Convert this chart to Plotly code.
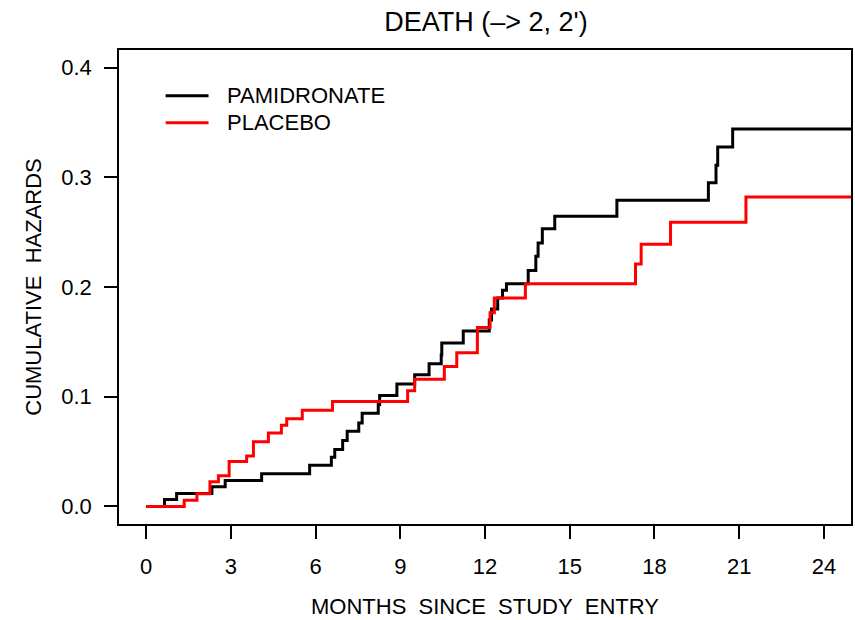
import plotly.graph_objects as go

# ---- data (months, cumulative hazard) ----
pam_time = [0, 0.65, 1.08, 2.33, 2.80, 4.09, 5.79, 6.56, 6.68, 6.96, 7.12, 7.53, 7.65,
            8.22, 8.27, 8.88, 9.51, 10.02, 10.45, 10.47, 11.23, 12.15, 12.23, 12.45,
            12.62, 12.76, 13.53, 13.80, 13.88, 14.03, 14.47, 16.67, 19.91, 20.18,
            20.24, 20.77, 25.0]
pam_haz = [0, 0.0064, 0.0118, 0.018, 0.0236, 0.0297, 0.0376, 0.0448, 0.0518, 0.060,
           0.0685, 0.076, 0.085, 0.093, 0.101, 0.1115, 0.120, 0.130, 0.138, 0.149,
           0.160, 0.170, 0.180, 0.190, 0.197, 0.203, 0.215, 0.228, 0.240, 0.253,
           0.2645, 0.279, 0.295, 0.311, 0.3276, 0.344, 0.344]

pla_time = [0, 1.35, 1.80, 2.26, 2.56, 2.94, 3.56, 3.80, 4.33, 4.79, 4.98, 5.53, 6.60,
            9.26, 9.51, 10.56, 11.00, 11.73, 12.18, 12.33, 13.43, 17.33, 17.53, 18.57,
            21.24, 25.0]
pla_haz = [0, 0.0057, 0.0115, 0.0225, 0.028, 0.041, 0.046, 0.059, 0.067, 0.074, 0.080,
           0.0876, 0.0957, 0.1055, 0.116, 0.1276, 0.140, 0.163, 0.1766, 0.190, 0.203,
           0.221, 0.239, 0.259, 0.282, 0.282]

x_ticks = [0, 3, 6, 9, 12, 15, 18, 21, 24]
y_ticks = [0.0, 0.1, 0.2, 0.3, 0.4]
y_tick_labels = ["0.0", "0.1", "0.2", "0.3", "0.4"]
series_names = ["PAMIDRONATE", "PLACEBO"]
series_colors = ["#000000", "#FF0000"]

FONT = "Liberation Sans, Arial, sans-serif"
FS = 22
NB = "\u00a0"

fig = go.Figure()
fig.add_trace(go.Scatter(x=pam_time, y=pam_haz, mode="lines", line_shape="hv",
                         line=dict(color=series_colors[0], width=3),
                         name=series_names[0], showlegend=False))
fig.add_trace(go.Scatter(x=pla_time, y=pla_haz, mode="lines", line_shape="hv",
                         line=dict(color=series_colors[1], width=3),
                         name=series_names[1], showlegend=False))

# manual legend (R-style, inside the plot box)
L, R_, T, B = 119.3, 852.7, 50.0, 524.0
def px(xp):
    return (xp - L) / (R_ - L)
def py(yp):
    return (B - yp) / (B - T)

for i, (nm, col) in enumerate(zip(series_names, series_colors)):
    yy = py(95.7 + 27 * i)
    fig.add_shape(type="line", xref="paper", yref="paper",
                  x0=px(166), x1=px(209), y0=yy, y1=yy,
                  line=dict(color=col, width=3))
    fig.add_annotation(xref="paper", yref="paper", x=px(226), y=yy,
                       xanchor="left", yanchor="middle", showarrow=False,
                       text=nm, font=dict(family=FONT, size=FS, color="#000"))

fig.update_layout(
    width=855, height=620,
    margin=dict(l=L, r=855 - R_, t=T, b=620 - B),
    paper_bgcolor="white", plot_bgcolor="white",
    font=dict(family=FONT, size=FS, color="#000"),
    title=dict(text="DEATH (–> 2, 2')", x=(L + R_) / 2 / 855, xanchor="center",
               y=1 - 22 / 620, yanchor="middle", yref="container",
               font=dict(family=FONT, size=27, color="#000")),
    xaxis=dict(range=[-0.96, 24.96], tickmode="array", tickvals=x_ticks,
               ticks="outside", ticklen=13, tickwidth=1.6, tickcolor="#000",
               ticklabelstandoff=9,
               showline=True, linewidth=1.6, linecolor="#000", mirror=True,
               showgrid=False, zeroline=False,
               title=dict(text=f"MONTHS{NB} SINCE{NB} STUDY{NB} ENTRY", standoff=20,
                          font=dict(size=FS))),
    yaxis=dict(range=[-0.016, 0.416], tickmode="array", tickvals=y_ticks,
               ticktext=y_tick_labels,
               ticks="outside", ticklen=13, tickwidth=1.6, tickcolor="#000",
               ticklabelstandoff=8,
               showline=True, linewidth=1.6, linecolor="#000", mirror=True,
               showgrid=False, zeroline=False,
               title=dict(text=f"CUMULATIVE{NB} HAZARDS", standoff=14,
                          font=dict(size=FS))),
)

fig.write_html("out.html")
